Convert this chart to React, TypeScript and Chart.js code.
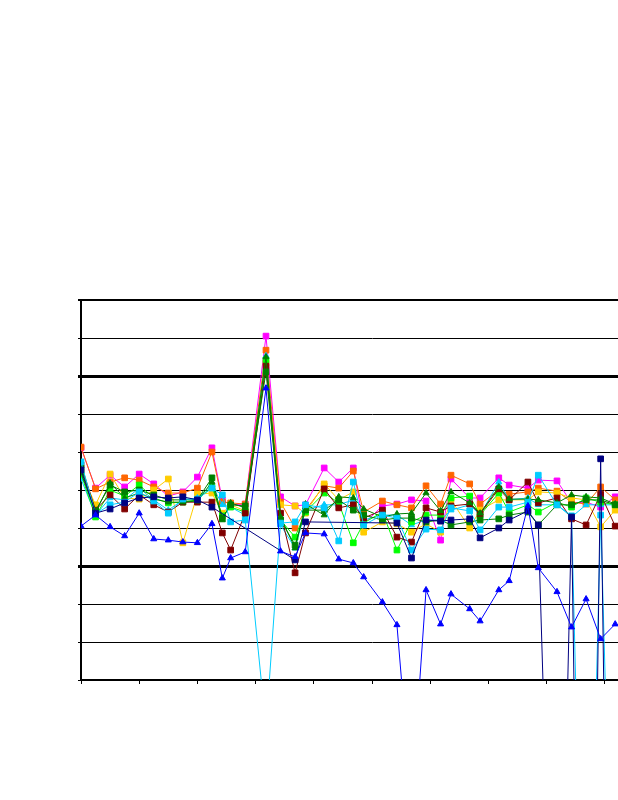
import React, { useEffect, useRef } from "react";
import { Chart, registerables } from "chart.js";

Chart.register(...registerables);

// x positions (days from first sample)
const days = [0, 7, 14, 21, 28, 35, 42, 49, 56, 63, 68, 72, 79, 89, 96, 103, 108, 117, 124, 131, 136, 145, 152, 159, 166, 173, 178, 187, 192, 201, 206, 215, 220, 229, 236, 243, 250, 257];

const navySeries = [55.3, 43.9, 45.0, 46.6, 47.9, 48.2, 47.9, 48.2, 47.4, 45.5, null, null, null, null, null, 31.6, 41.6, null, null, null, null, null, 41.3, 32.1, 42.1, 41.8, 42.1, 42.4, 37.4, 40.0, 42.1, 44.5, 40.8, -123.7, 42.9, -220, 58.2, -220];
const magentaSeries = [61.1, 50.5, 53.9, 50.8, 54.2, 51.6, 48.4, 49.5, 53.4, 61.1, 47.4, 46.1, 46.3, 90.5, 48.2, 45.8, 46.1, 55.8, 52.1, 55.8, 41.1, 45.8, 46.3, 47.4, 47.1, 36.8, 52.9, 47.9, 47.9, 53.2, 51.3, 50.5, 52.6, 52.4, 46.6, 46.8, 45.5, 48.2];
const goldSeries = [54.7, 46.1, 54.2, 47.9, 47.6, 50.0, 52.9, 36.1, 48.9, 49.2, 43.9, 46.1, 44.5, 83.4, 46.1, 45.8, 43.9, 51.6, 47.4, 49.5, 38.9, 41.6, 41.1, 38.9, 41.1, 38.9, 47.4, 40.0, 44.7, 47.4, 47.4, 47.4, 49.5, 49.2, 47.9, 47.4, 40.3, 44.7];
const cyanSeries = [57.4, 43.7, 46.1, 46.8, 49.5, 47.1, 43.9, 47.6, 47.6, 50.5, 48.7, 41.6, 42.1, -12.6, 41.3, 41.6, 46.1, 45.3, 36.6, 52.1, 40.8, 43.4, 42.6, 34.2, 39.7, 39.5, 45.3, 44.5, 39.5, 45.5, 45.5, 46.8, 53.9, 46.1, 43.2, -110, 43.4, -94.7];
const maroonSeries = [56.6, 44.7, 48.7, 45.0, 48.7, 46.1, 44.2, 46.8, 46.8, 46.8, 38.7, 34.2, 43.9, 82.6, 43.9, 28.2, 38.7, 50.3, 45.3, 46.1, 42.6, 44.7, 37.6, 36.3, 45.3, 44.2, 45.8, 46.3, 43.7, 50.3, 47.4, 52.1, 46.6, 47.9, 42.4, 40.8, 48.9, 40.5];
const greenTriSeries = [54.5, 44.2, 51.8, 47.9, 49.2, 47.6, 46.8, 46.8, 47.1, 52.1, 42.1, 46.6, 45.3, 85.0, 42.9, 34.7, 46.3, 43.4, 48.2, 47.9, 45.0, 42.9, 43.7, 43.9, 49.2, 44.5, 49.5, 46.6, 43.9, 50.8, 47.6, 47.6, 47.4, 46.6, 48.7, 48.2, 47.9, 46.3];
const blueSeries = [40.5, 43.4, 40.3, 37.9, 43.9, 37.1, 36.8, 36.3, 36.1, 41.1, 26.8, 32.1, 33.7, 76.8, 33.9, 32.4, 38.7, 38.4, 31.8, 30.8, 27.1, 20.5, 14.5, -31.6, 23.7, 14.7, 22.6, 18.7, 15.5, 23.7, 26.1, 45.8, 29.5, 23.2, 13.9, 21.3, 10.8, 14.7];
const limeSeries = [54.2, 42.9, 50.0, 48.4, 51.3, 47.9, 46.6, 46.8, 47.4, 50.8, 43.2, 45.5, 44.2, 84.2, 42.1, 37.6, 44.2, 49.2, 46.6, 36.1, 41.3, 44.2, 34.2, 41.6, 43.4, 43.4, 47.9, 48.4, 43.4, 49.2, 44.2, 46.1, 44.2, 46.8, 45.5, 47.9, 46.8, 46.1];
const orangeSeries = [61.3, 50.3, 52.1, 53.2, 52.6, 50.8, 49.2, 49.2, 50.5, 60.0, 46.8, 46.6, 46.3, 86.8, 46.8, 40.0, 44.7, 51.1, 50.5, 55.0, 44.2, 47.1, 46.1, 45.3, 51.1, 46.3, 53.9, 51.6, 46.3, 50.0, 48.9, 49.5, 50.5, 49.7, 46.8, 46.3, 50.8, 47.4];
const greenSqSeries = [55.8, 44.5, 51.3, 49.5, 50.0, 48.7, 47.4, 47.4, 47.4, 53.2, 42.6, 46.1, 45.8, 81.1, 42.1, 35.5, 44.7, 44.7, 47.4, 44.7, 43.4, 42.1, 42.6, 42.6, 41.6, 42.1, 40.8, 41.6, 42.1, 42.4, 43.4, 44.2, 40.8, 46.1, 46.1, 47.4, 47.4, 46.1];
const cyanTriSeries = [52.9, 43.4, 47.9, 47.4, 50.5, 47.4, 44.7, 47.4, 47.9, 51.3, 46.1, 45.5, 43.4, 85.3, 40.8, 34.7, 44.7, 46.1, 46.1, 47.4, 42.1, 43.4, 43.4, 40.8, 42.1, 42.1, 44.7, 46.1, 43.4, 52.1, 47.4, 47.9, 46.1, 46.1, 42.9, 46.1, 46.1, 46.1];

// axis settings
const xMax = 280;
const xStep = 28;
const yMin = 0;
const yMax = 100;
const yStep = 10;
const limitLines = [30, 80];

export default function App() {
  const ref = useRef<HTMLCanvasElement>(null);

  useEffect(() => {
    if (!ref.current) return;
    const mk = (label: string, values: (number | null)[], color: string, style: string, extra: any = {}) => ({
      label,
      data: days.map((d, i) => ({ x: d, y: values[i] })),
      borderColor: color,
      backgroundColor: color,
      pointBackgroundColor: color,
      pointBorderColor: color,
      pointStyle: style,
      pointRadius: style === "triangle" ? 3.5 : 4,
      pointBorderWidth: 1,
      borderWidth: 1,
      tension: 0,
      ...extra,
    });

    const chart = new Chart(ref.current, {
      type: "line",
      data: {
        datasets: [
          mk("Blue", blueSeries, "#0000FF", "triangle"),
          mk("Navy", navySeries, "#000080", "rect", { spanGaps: true }),
          mk("Cyan", cyanSeries, "#00CCFF", "rect"),
          mk("Green tri", greenTriSeries, "#008000", "triangle"),
          mk("Green sq", greenSqSeries, "#008000", "rect"),
          mk("Maroon", maroonSeries, "#800000", "rect"),
          mk("Lime", limeSeries, "#00FF00", "rect"),
          mk("Cyan tri", cyanTriSeries, "#00CCFF", "triangle"),
          mk("Gold", goldSeries, "#FFCC00", "rect"),
          mk("Orange", orangeSeries, "#FF6600", "rect"),
          mk("Magenta", magentaSeries, "#FF00FF", "rect"),
        ],
      },
      options: {
        animation: false,
        responsive: false,
        devicePixelRatio: 1,
        events: [],
        layout: { padding: { left: 71, top: 300, right: 17, bottom: 110 } },
        plugins: { legend: { display: false }, tooltip: { enabled: false }, title: { display: false } },
        scales: {
          x: {
            type: "linear",
            min: 0,
            max: xMax,
            ticks: { display: false, stepSize: xStep },
            grid: { drawOnChartArea: false, drawTicks: true, tickLength: 4, color: "#000", lineWidth: 1 },
            border: { display: true, color: "#000", width: 2 },
            afterFit: (s: any) => { s.height = 10; },
          },
          y: {
            min: yMin,
            max: yMax,
            ticks: { display: false, stepSize: yStep },
            grid: {
              color: "#000",
              tickLength: 3,
              lineWidth: (c: any) => (limitLines.includes(c.tick?.value) ? 3 : c.tick?.value === yMax ? 2 : 1),
            },
            border: { display: true, color: "#000", width: 2 },
            afterFit: (s: any) => { s.width = 10; },
          },
        },
      },
    } as any);
    return () => chart.destroy();
  }, []);

  return (
    <div style={{ position: "fixed", left: 0, top: 0, width: 618, height: 800, overflow: "hidden", background: "#fff" }}>
      <canvas ref={ref} width={680} height={800} style={{ width: 680, height: 800, display: "block" }} />
    </div>
  );
}
